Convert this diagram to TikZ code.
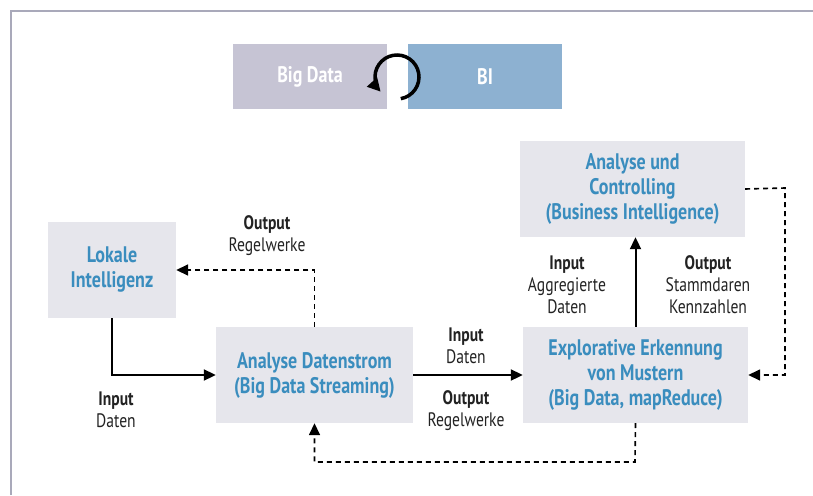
\documentclass[tikz,border=0pt]{standalone}
\usepackage{fontspec}
\setmainfont{PT Sans}[FakeStretch=0.8]
\usetikzlibrary{arrows.meta,positioning}
\definecolor{boxgray}{HTML}{E6E6EC}
\definecolor{boxblue}{HTML}{3A8DBE}
\definecolor{bdgray}{HTML}{C6C4D4}
\definecolor{biblue}{HTML}{8DB1D1}
\definecolor{framegray}{HTML}{A9A9BA}
\definecolor{txtdark}{HTML}{222222}

\begin{document}
\begin{tikzpicture}[x=1pt,y=-1pt,
	box/.style={shape=rectangle,fill=boxgray,text=boxblue,align=center,
		font=\fontsize{22.5}{25}\selectfont\bfseries,inner sep=0pt},
	tag/.style={shape=rectangle,fill=#1,text=white,inner sep=0pt,
		minimum width=154pt,minimum height=65pt,
		font=\fontsize{22.5}{25}\selectfont\bfseries},
	lbl/.style={align=center,text=txtdark,inner sep=0pt,
		font=\fontsize{19.5}{22}\selectfont},
	flow/.style={line width=2pt,-{Triangle[length=12pt,width=11pt]}},
	back/.style={line width=1.6pt,dash pattern=on 5pt off 4pt,
		-{Triangle[length=12pt,width=11pt]}}]
		\useasboundingbox (0,0) rectangle (813,495);
		\draw[framegray,line width=2pt] (11,495) -- (11,11) -- (813,11);
		% Big Data / BI
		\node[tag=bdgray] (bigdata) at (310,76.5) {Big Data};
		\node[tag=biblue] (bi) at (485,76.5) {BI};
		\draw[line width=3.5pt,-{Triangle[length=13pt,width=13pt]}]
			(397,77) ++(80:22) arc[start angle=80,end angle=-222,radius=22];
		% boxes
		\node[box,minimum width=128pt,minimum height=96pt] (lokal) at (112,270)
			{Lokale\\Intelligenz};
		\node[box,minimum width=197pt,minimum height=96pt] (strom) at (314.5,375)
			{Analyse Datenstrom\\(Big Data Streaming)};
		\node[box,minimum width=225pt,minimum height=96pt] (muster) at (635.5,375)
			{Explorative Erkennung\\von Mustern\\(Big Data, mapReduce)};
		\node[box,minimum width=225pt,minimum height=96pt] (ctrl) at (632.5,189)
			{Analyse und\\Controlling\\(Business Intelligence)};
		% connectors
		\draw[flow] (lokal.south) |- (strom.west);
		\draw[back] (strom.north) |- (lokal.east);
		\draw[flow] (strom.east) -- (muster.west);
		\coordinate (loop) at (635,462);
		\draw[back] (muster.south) -- (loop) -| (strom.south);
		\draw[flow] (muster.north) -- (muster.north |- ctrl.south);
		\coordinate (side) at (785,188);
		\draw[back] (ctrl.east) -- (side) |- (muster.east);
		% labels
		\node[lbl] (in1) at (116,410) {\textbf{Input}\\Daten};
		\node[lbl] (out1) at (267,236) {\textbf{Output}\\Regelwerke};
		\node[lbl] (in2) at (466,346) {\textbf{Input}\\Daten};
		\node[lbl] (out2) at (466,411) {\textbf{Output}\\Regelwerke};
		\node[lbl] (in3) at (567,285) {\textbf{Input}\\Aggregierte\\Daten};
		\node[lbl] (out3) at (708,285) {\textbf{Output}\\Stammdaren\\Kennzahlen};
	\end{tikzpicture}
\end{document}
